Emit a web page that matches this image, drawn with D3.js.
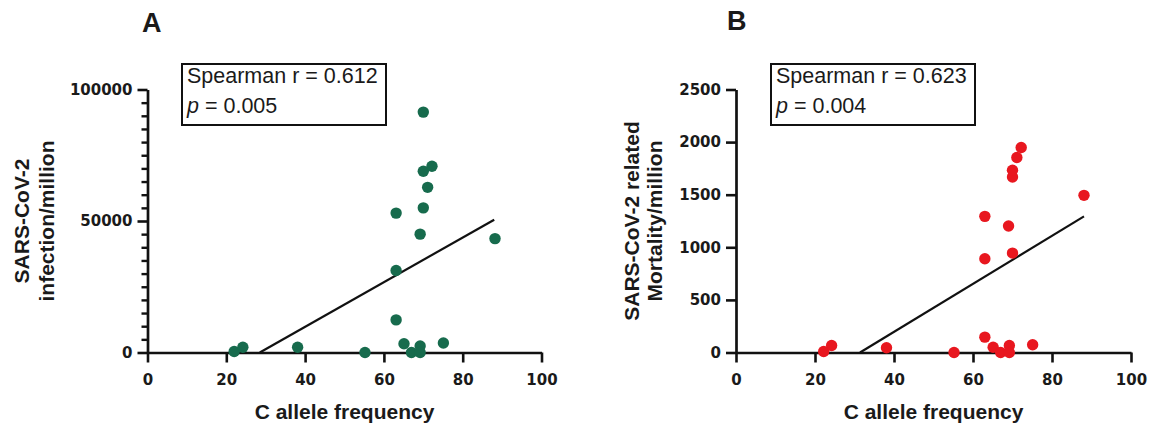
<!DOCTYPE html>
<html>
<head>
<meta charset="utf-8">
<script src="https://cdn.jsdelivr.net/npm/d3@7"></script>
<style>
  body { margin: 0; background: #fff; }
  svg text { font-family: "Liberation Sans", Arial, sans-serif; fill: #1a1a1a; }
</style>
</head>
<body>
<div id="chart"></div>
<script>
// Data
const panelLetters = ['A', 'B'];
const xTicks = [0, 20, 40, 60, 80, 100];

const freqA = [22.0, 24.2, 38.1, 55.2, 63.1, 63.1, 63.1, 65.1, 67.0, 69.2, 69.2, 69.2, 70.0, 70.0, 70.0, 71.1, 72.2, 75.1, 88.2];
const infection = [400, 2000, 2000, 0, 53000, 31200, 12400, 3300, 0, 2500, 0, 45000, 55000, 68900, 91400, 62800, 70800, 3600, 43300];
const yTicksA = [0, 50000, 100000];
const minorTicksA = [5000, 10000, 15000, 20000, 25000, 30000, 35000, 40000, 45000, 55000, 60000, 65000, 70000, 75000, 80000, 85000, 90000, 95000];
const fitXA = [28.5, 88.0];
const fitYA = [0, 50500];

const freqB = [22.2, 24.2, 38.1, 55.2, 63.0, 63.0, 63.0, 65.1, 67.0, 69.2, 69.2, 69.0, 70.0, 70.0, 70.0, 71.1, 72.2, 75.1, 88.1];
const mortality = [10, 67, 45, 0, 1294, 891, 146, 50, 0, 67, 0, 1202, 945, 1668, 1732, 1853, 1948, 73, 1494];
const yTicksB = [0, 500, 1000, 1500, 2000, 2500];
const fitXB = [31.4, 88.1];
const fitYB = [0, 1294];

const spearmanR = ['0.612', '0.623'];
const pValues = ['0.005', '0.004'];

const svg = d3.select('#chart')
  .append('svg')
  .attr('width', 1156)
  .attr('height', 433);

function drawPanel(opt) {
  const xScale = d3.scaleLinear().domain([0, 100]).range([opt.left, opt.right]);
  const yScale = d3.scaleLinear().domain([0, opt.yMax]).range([352.5, 89.5]);

  const g = svg.append('g');

  // panel letter
  g.append('text')
    .attr('x', opt.letterX)
    .attr('y', opt.letterY)
    .attr('font-size', 27)
    .attr('font-weight', 'bold')
    .text(opt.letter);

  // minor ticks on y (panel A only)
  if (opt.minorTicks.length) {
    const minor = g.append('g')
      .attr('transform', `translate(${opt.left},0)`)
      .call(d3.axisLeft(yScale).tickValues(opt.minorTicks).tickSize(6).tickSizeOuter(0).tickFormat(() => ''));
    minor.select('.domain').remove();
    minor.selectAll('.tick line').attr('stroke', '#111').attr('stroke-width', 2.4);
  }

  const yAxis = g.append('g')
    .attr('transform', `translate(${opt.left},0)`)
    .call(d3.axisLeft(yScale).tickValues(opt.yTicks).tickSize(10).tickSizeOuter(0).tickPadding(5).tickFormat(d3.format('d')));

  const xAxis = g.append('g')
    .attr('transform', `translate(0,352.5)`)
    .call(d3.axisBottom(xScale).tickValues(xTicks).tickSize(10).tickSizeOuter(0).tickPadding(12));

  [xAxis, yAxis].forEach(a => {
    a.select('.domain').attr('stroke', '#111').attr('stroke-width', 2.7);
    a.selectAll('.tick line').attr('stroke', '#111').attr('stroke-width', 2.6);
    a.selectAll('.tick text')
      .style('font-family', '"DejaVu Sans", sans-serif')
      .attr('font-size', 15)
      .attr('font-weight', 'bold')
      .attr('fill', '#1a1a1a');
  });

  // regression line
  const fit = opt.fitX.map((x, i) => [x, opt.fitY[i]]);
  g.append('path')
    .datum(fit)
    .attr('fill', 'none')
    .attr('stroke', '#111')
    .attr('stroke-width', 2.2)
    .attr('d', d3.line().x(d => xScale(d[0])).y(d => yScale(d[1])));

  // dots
  g.selectAll('circle')
    .data(opt.xs.map((x, i) => [x, opt.ys[i]]))
    .join('circle')
    .attr('cx', d => xScale(d[0]))
    .attr('cy', d => yScale(d[1]))
    .attr('r', 5.7)
    .attr('fill', opt.color);

  // stats box
  g.append('rect')
    .attr('x', opt.boxX)
    .attr('y', 64)
    .attr('width', 204)
    .attr('height', 61)
    .attr('fill', '#fff')
    .attr('stroke', '#111')
    .attr('stroke-width', 2);

  g.append('text')
    .attr('x', opt.boxX + 5)
    .attr('y', 83)
    .attr('font-size', 21.5)
    .text(`Spearman r = ${opt.r}`);

  const pLine = g.append('text')
    .attr('x', opt.boxX + 5)
    .attr('y', 113)
    .attr('font-size', 21.5);
  pLine.append('tspan').attr('font-style', 'italic').text('p');
  pLine.append('tspan').text(` = ${opt.p}`);

  // x title
  g.append('text')
    .attr('x', (opt.left + opt.right) / 2)
    .attr('y', 419)
    .attr('text-anchor', 'middle')
    .attr('font-size', 21)
    .attr('font-weight', 'bold')
    .text('C allele frequency');

  // y title
  opt.yTitle.forEach((line, i) => {
    g.append('text')
      .attr('transform', `translate(${opt.yTitleX[i]},221) rotate(-90)`)
      .attr('text-anchor', 'middle')
      .attr('font-size', 21)
      .attr('font-weight', 'bold')
      .text(line);
  });
}

drawPanel({
  letter: panelLetters[0], letterX: 142, letterY: 32,
  left: 147.5, right: 541.5, yMax: 100000, yTicks: yTicksA, minorTicks: minorTicksA,
  xs: freqA, ys: infection, fitX: fitXA, fitY: fitYA, color: '#176b4d',
  boxX: 182, r: spearmanR[0], p: pValues[0],
  yTitle: ['SARS-CoV-2', 'infection/million'], yTitleX: [29, 54]
});

drawPanel({
  letter: panelLetters[1], letterX: 727, letterY: 30,
  left: 736, right: 1131, yMax: 2500, yTicks: yTicksB, minorTicks: [],
  xs: freqB, ys: mortality, fitX: fitXB, fitY: fitYB, color: '#e8171f',
  boxX: 771, r: spearmanR[1], p: pValues[1],
  yTitle: ['SARS-CoV-2 related', 'Mortality/million'], yTitleX: [639, 662]
});
</script>
</body>
</html>
